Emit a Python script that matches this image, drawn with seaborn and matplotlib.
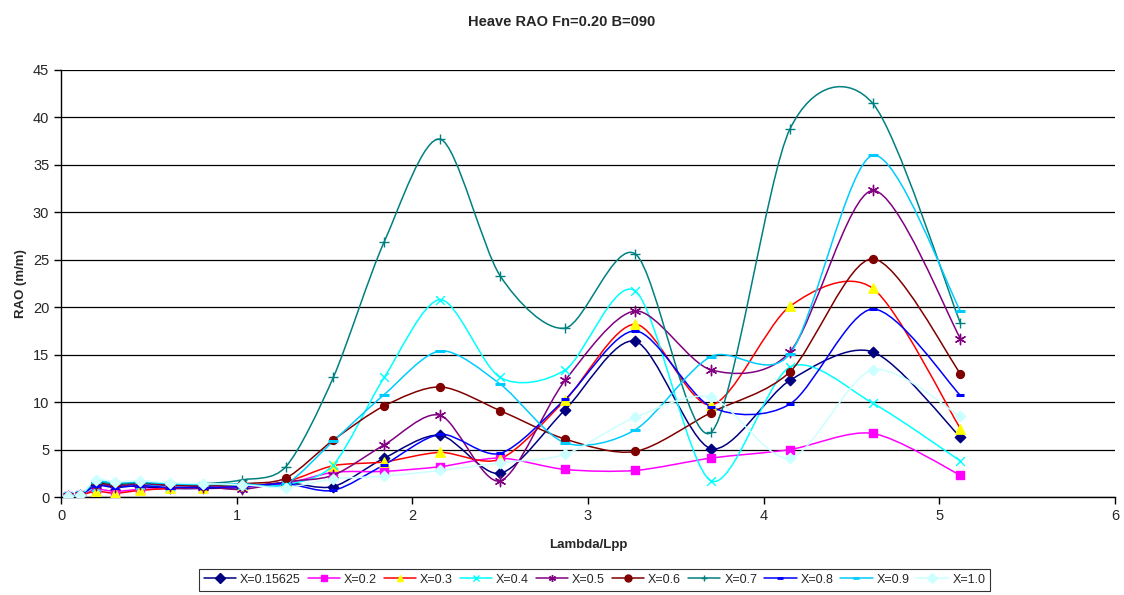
import numpy as np
import pandas as pd
import matplotlib
matplotlib.use('Agg')
import matplotlib.pyplot as plt
import seaborn as sns
from matplotlib.path import Path
from matplotlib.patches import PathPatch
from matplotlib.lines import Line2D

# --- data ---
lam = [0.04, 0.11, 0.20, 0.31, 0.45, 0.62, 0.81, 1.03, 1.28, 1.55,
       1.84, 2.16, 2.50, 2.87, 3.27, 3.70, 4.15, 4.62, 5.12]

x_015625 = [0.1, 0.2, 1.3, 1.2, 1.1, 0.9, 0.9, 1.0, 1.5, 1.1, 4.1, 6.5, 2.5, 9.2, 16.4, 5.1, 12.3, 15.3, 6.3]
x_02 = [0.1, 0.2, 0.8, 0.6, 0.8, 0.9, 1.0, 1.1, 1.4, 2.6, 2.7, 3.2, 4.1, 2.9, 2.8, 4.1, 5.0, 6.7, 2.3]
x_03 = [0.1, 0.2, 0.6, 0.4, 0.7, 0.9, 1.0, 1.2, 1.6, 3.3, 3.7, 4.7, 4.0, 10.2, 18.2, 9.7, 20.1, 22.0, 7.2]
x_04 = [0.1, 0.2, 1.1, 1.3, 1.3, 1.2, 1.2, 1.3, 1.3, 3.4, 12.6, 20.8, 12.6, 13.4, 21.7, 1.7, 13.7, 9.9, 3.8]
x_05 = [0.1, 0.2, 1.3, 1.1, 1.4, 1.2, 1.1, 0.8, 1.6, 2.3, 5.5, 8.6, 1.7, 12.3, 19.6, 13.4, 15.3, 32.3, 16.7]
x_06 = [0.1, 0.2, 1.4, 1.3, 1.5, 1.3, 1.2, 1.4, 2.0, 6.0, 9.6, 11.6, 9.1, 6.1, 4.8, 8.9, 13.2, 25.1, 13.0]
x_07 = [0.1, 0.2, 1.5, 1.4, 1.5, 1.4, 1.4, 1.8, 3.2, 12.6, 26.9, 37.7, 23.3, 17.8, 25.6, 6.8, 38.8, 41.5, 18.3]
x_08 = [0.1, 0.2, 1.2, 1.0, 1.2, 1.0, 1.0, 1.1, 1.4, 0.7, 3.4, 6.6, 4.6, 10.3, 17.5, 9.5, 9.8, 19.8, 10.7]
x_09 = [0.1, 0.2, 1.6, 1.5, 1.6, 1.4, 1.3, 1.4, 1.4, 5.9, 10.8, 15.4, 11.9, 5.7, 7.1, 14.8, 15.1, 36.0, 19.6]
x_10 = [0.1, 0.2, 1.8, 1.6, 1.7, 1.5, 1.4, 1.3, 1.0, 1.9, 2.2, 2.8, 3.6, 4.5, 8.4, 10.5, 4.1, 13.4, 8.5]

labels = ['X=0.15625', 'X=0.2', 'X=0.3', 'X=0.4', 'X=0.5',
          'X=0.6', 'X=0.7', 'X=0.8', 'X=0.9', 'X=1.0']
series = [x_015625, x_02, x_03, x_04, x_05, x_06, x_07, x_08, x_09, x_10]

# line colour, marker, marker colour, marker size
styles = [
    ('#000080', 'D', '#000080', 28),
    ('#FF00FF', 's', '#FF00FF', 32),
    ('#FF0000', '^', '#FFFF00', 45),
    ('#00FFFF', 'x', '#00FFFF', 40),
    ('#800080', (6, 2, 0), '#800080', 55),
    ('#800000', 'o', '#800000', 32),
    ('#008080', '+', '#008080', 50),
    ('#0000FF', '_', '#0000FF', 30),
    ('#00CCFF', '_', '#00CCFF', 45),
    ('#CCFFFF', 'D', '#CCFFFF', 28),
]

df = pd.DataFrame({lab: vals for lab, vals in zip(labels, series)})
df['lam'] = lam


def smooth_path(x, y, k=1 / 7):
    # Excel style smoothed line: cubic Bezier segments through the points
    pts = np.column_stack([x, y])
    n = len(pts)
    verts = [pts[0]]
    codes = [Path.MOVETO]
    for i in range(n - 1):
        p0 = pts[i - 1] if i > 0 else pts[i]
        p1 = pts[i]
        p2 = pts[i + 1]
        p3 = pts[i + 2] if i + 2 < n else pts[i + 1]
        verts += [p1 + (p2 - p0) * k, p2 - (p3 - p1) * k, p2]
        codes += [Path.CURVE4] * 3
    return Path(verts, codes)


sns.set_theme(style='white')
plt.rcParams['font.family'] = ['Liberation Sans', 'DejaVu Sans']

fig = plt.figure(figsize=(11.24, 5.95), dpi=100)
ax = fig.add_axes([0.0543, 0.1647, 0.9377, 0.7177])

for lab, (lc, mk, mc, ms) in zip(labels, styles):
    ax.add_patch(PathPatch(smooth_path(df['lam'], df[lab]), facecolor='none',
                           edgecolor=lc, lw=1.1, zorder=2))
for lab, (lc, mk, mc, ms) in zip(labels, styles):
    lw = 2.2 if mk == '_' else 1.0
    sns.scatterplot(data=df, x='lam', y=lab, ax=ax, marker=mk, s=ms,
                    color=mc, edgecolor=mc, linewidth=lw, zorder=3, legend=False)

ax.set_xlim(0, 6)
ax.set_ylim(0, 45)
ax.set_xticks(range(0, 7))
ax.set_yticks(range(0, 46, 5))
ax.yaxis.grid(True, color='black', lw=0.9)
ax.xaxis.grid(False)
for s in ['top', 'right']:
    ax.spines[s].set_visible(False)
for s in ['left', 'bottom']:
    ax.spines[s].set_color('black')
    ax.spines[s].set_linewidth(1.0)
ax.tick_params(axis='both', which='major', direction='out', length=5,
               width=1, color='black', labelsize=10.5, left=True, bottom=True)

ax.set_xlabel('Lambda/Lpp', fontsize=9.5, fontweight='bold', labelpad=12)
ax.set_ylabel('RAO (m/m)', fontsize=9.5, fontweight='bold', labelpad=4)
fig.suptitle('Heave RAO Fn=0.20 B=090', fontsize=10.5, fontweight='bold', y=0.975)

handles = []
for lab, (lc, mk, mc, ms) in zip(labels, styles):
    handles.append(Line2D([], [], color=lc, lw=1.1, marker=mk,
                          markerfacecolor=mc, markeredgecolor=mc,
                          markersize=5, markeredgewidth=2 if mk == '_' else 1))
leg = fig.legend(handles, labels, loc='center', bbox_to_anchor=(0.529, 0.026),
                 ncol=10, fontsize=9, frameon=True, fancybox=False,
                 handlelength=2.6, handletextpad=0.3, columnspacing=0.55,
                 borderpad=0.4, borderaxespad=0)
leg.get_frame().set_edgecolor('black')
leg.get_frame().set_linewidth(0.8)

fig.savefig('out.png', dpi=100)
